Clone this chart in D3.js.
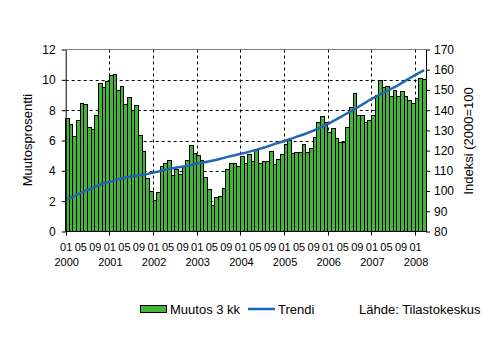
<!DOCTYPE html>
<html>
<head>
<meta charset="utf-8">
<script src="https://cdn.jsdelivr.net/npm/d3@7"></script>
<style>
  html, body { margin: 0; padding: 0; background: #fff; }
  svg { display: block; font-family: "Liberation Sans", Arial, sans-serif; }
</style>
</head>
<body>
<svg id="chart" width="495" height="340"></svg>
<script>
// Years shown on the category axis and the month labels repeated under each year
const years = ["2000", "2001", "2002", "2003", "2004", "2005", "2006", "2007", "2008"];
const monthLabels = ["01", "05", "09"];

// Three-month change, percent (monthly, 2000-01 ... 2008-03)
const muutos = [
  7.43, 7.03, 6.26, 7.30, 8.42, 8.35, 6.86, 6.70, 7.63, 9.74, 9.47, 9.87,
  10.26, 10.33, 9.27, 9.54, 8.35, 8.86, 7.96, 8.29, 6.33, 5.25, 3.49, 2.64,
  2.07, 2.57, 4.29, 4.48, 4.66, 3.67, 4.10, 3.74, 4.30, 4.66, 5.65, 5.12,
  4.99, 4.70, 3.55, 2.75, 1.69, 2.22, 2.30, 2.82, 4.08, 4.46, 4.46, 4.26,
  4.93, 4.47, 5.05, 4.60, 5.34, 4.47, 4.59, 4.59, 5.25, 4.41, 4.74, 5.05,
  5.73, 6.00, 5.12, 5.19, 5.19, 5.71, 5.19, 5.45, 6.18, 7.16, 7.58, 7.16,
  6.51, 6.77, 6.11, 5.90, 5.85, 6.86, 8.15, 9.12, 7.63, 7.63, 7.16, 7.30,
  7.63, 9.00, 9.95, 9.47, 9.54, 8.88, 9.27, 8.88, 9.25, 8.92, 8.62, 8.44,
  8.75, 10.07, 10.00
];

// Trend index, 2000 = 100 (same months)
const trendi = [
  96.0, 96.8, 97.6, 98.5, 99.3, 100.1, 100.9, 101.7, 102.5, 103.2, 103.8, 104.3,
  104.8, 105.3, 105.8, 106.3, 106.7, 107.1, 107.4, 107.7, 107.9, 108.1, 108.5, 108.9,
  109.3, 109.7, 110.2, 110.6, 111.0, 111.3, 111.6, 111.9, 112.2, 112.5, 112.9, 113.3,
  113.7, 114.0, 114.4, 114.7, 115.1, 115.5, 116.0, 116.4, 116.9, 117.3, 117.7, 118.2,
  118.6, 119.0, 119.5, 120.0, 120.5, 121.0, 121.5, 122.1, 122.7, 123.3, 123.9, 124.4,
  125.0, 125.6, 126.2, 126.9, 127.5, 128.1, 128.8, 129.5, 130.2, 131.0, 131.8, 132.7,
  133.6, 134.6, 135.6, 136.6, 137.6, 138.6, 139.6, 140.6, 141.7, 142.8, 143.9, 145.0,
  146.0, 147.0, 147.9, 148.8, 149.7, 150.6, 151.5, 152.5, 153.6, 154.7, 155.8, 156.8,
  157.8, 158.8, 159.8
];

// Axis tick values
const leftTicks = [0, 2, 4, 6, 8, 10, 12];
const rightTicks = [80, 90, 100, 110, 120, 130, 140, 150, 160, 170];

// Month categories built from the year list
const categories = [];
years.forEach(y => {
  for (let mo = 1; mo <= 12; mo++) categories.push(y + "-" + String(mo).padStart(2, "0"));
});
categories.length = muutos.length;

const GREEN = "#46b33c";
const BLUE = "#1f67b5";

const svg = d3.select("#chart");
const plot = { left: 65.7, right: 426, top: 49.5, bottom: 231.5 };

const x = d3.scaleBand().domain(categories).range([plot.left, plot.right]).padding(0);
const yL = d3.scaleLinear().domain([0, 12]).range([plot.bottom, plot.top]);
const yR = d3.scaleLinear().domain([80, 170]).range([plot.bottom, plot.top]);
const bw = x.bandwidth();

// Horizontal dashed gridlines
svg.append("g")
  .selectAll("line")
  .data(leftTicks.filter(t => t > 0 && t < 12))
  .join("line")
  .attr("x1", plot.left).attr("x2", plot.right)
  .attr("y1", d => Math.round(yL(d)) + 0.5).attr("y2", d => Math.round(yL(d)) + 0.5)
  .attr("stroke", "#000").attr("stroke-width", 1).attr("stroke-dasharray", "3,3");

// Vertical dashed gridlines at year boundaries
const yearStarts = categories.filter((c, i) => i % 12 === 0 && i > 0);
svg.append("g")
  .selectAll("line")
  .data(yearStarts)
  .join("line")
  .attr("x1", d => Math.round(x(d)) + 0.5).attr("x2", d => Math.round(x(d)) + 0.5)
  .attr("y1", plot.top).attr("y2", plot.bottom)
  .attr("stroke", "#000").attr("stroke-width", 1).attr("stroke-dasharray", "3,3");

// Top border of the plot area
svg.append("line")
  .attr("x1", plot.left).attr("x2", plot.right)
  .attr("y1", plot.top).attr("y2", plot.top)
  .attr("stroke", "#808080").attr("stroke-width", 1);

// Bars
svg.append("g")
  .attr("shape-rendering", "crispEdges")
  .selectAll("rect")
  .data(muutos)
  .join("rect")
  .attr("x", (d, i) => x(categories[i]))
  .attr("width", bw)
  .attr("y", d => yL(d))
  .attr("height", d => yL(0) - yL(d))
  .attr("fill", GREEN)
  .attr("stroke", "#000")
  .attr("stroke-width", 1);

// Trend line
const line = d3.line()
  .x((d, i) => x(categories[i]) + bw / 2)
  .y(d => yR(d));
svg.append("path")
  .datum(trendi)
  .attr("d", line)
  .attr("fill", "none")
  .attr("stroke", BLUE)
  .attr("stroke-width", 2.5);

// Left axis
const axL = svg.append("g")
  .attr("transform", `translate(${plot.left},0)`)
  .call(d3.axisLeft(yL).tickValues(leftTicks).tickSize(4).tickPadding(6).tickSizeOuter(0));
axL.select(".domain").attr("stroke", "#000");
axL.selectAll(".tick line").attr("stroke", "#000");
axL.selectAll("text").attr("font-size", 12).attr("fill", "#000")
  .attr("font-family", "Liberation Sans, Arial, sans-serif");

// Right axis
const axR = svg.append("g")
  .attr("transform", `translate(${plot.right},0)`)
  .call(d3.axisRight(yR).tickValues(rightTicks).tickSize(4).tickPadding(4).tickSizeOuter(0));
axR.select(".domain").attr("stroke", "#000");
axR.selectAll(".tick line").attr("stroke", "#000");
axR.selectAll("text").attr("font-size", 12).attr("fill", "#000")
  .attr("font-family", "Liberation Sans, Arial, sans-serif");

// Bottom axis line and year ticks
svg.append("line")
  .attr("x1", plot.left).attr("x2", plot.right)
  .attr("y1", plot.bottom).attr("y2", plot.bottom)
  .attr("stroke", "#000");
const yearTickCats = categories.filter((c, i) => i % 12 === 0);
svg.append("g")
  .selectAll("line")
  .data(yearTickCats)
  .join("line")
  .attr("x1", d => Math.round(x(d)) + 0.5).attr("x2", d => Math.round(x(d)) + 0.5)
  .attr("y1", plot.bottom).attr("y2", plot.bottom + 4)
  .attr("stroke", "#000");

// Month labels every four months, year labels under January
const labelG = svg.append("g").attr("font-size", 11).attr("fill", "#000").attr("text-anchor", "middle");
categories.forEach((c, i) => {
  if (i % 4 === 0) {
    labelG.append("text")
      .attr("x", x(c) + 0.5)
      .attr("y", 251)
      .text(monthLabels[(i % 12) / 4]);
  }
  if (i % 12 === 0) {
    labelG.append("text")
      .attr("x", x(c) + 1)
      .attr("y", 266)
      .text(years[i / 12]);
  }
});

// Axis titles
svg.append("text")
  .attr("transform", `translate(31.5,140) rotate(-90)`)
  .attr("text-anchor", "middle")
  .attr("font-size", 13)
  .text("Muutosprosentti");
svg.append("text")
  .attr("transform", `translate(473,141) rotate(-90)`)
  .attr("text-anchor", "middle")
  .attr("font-size", 13)
  .text("Indeksi (2000=100");

// Legend
const leg = svg.append("g").attr("font-size", 13);
leg.append("rect")
  .attr("x", 140.5).attr("y", 305.5).attr("width", 26).attr("height", 7)
  .attr("fill", GREEN).attr("stroke", "#000");
leg.append("text").attr("x", 170).attr("y", 313.5).text("Muutos 3 kk");
leg.append("line")
  .attr("x1", 248).attr("x2", 275).attr("y1", 309).attr("y2", 309)
  .attr("stroke", BLUE).attr("stroke-width", 2.5);
leg.append("text").attr("x", 278).attr("y", 313.5).text("Trendi");
leg.append("text").attr("x", 359).attr("y", 313.5).text("Lähde: Tilastokeskus");
</script>
</body>
</html>
